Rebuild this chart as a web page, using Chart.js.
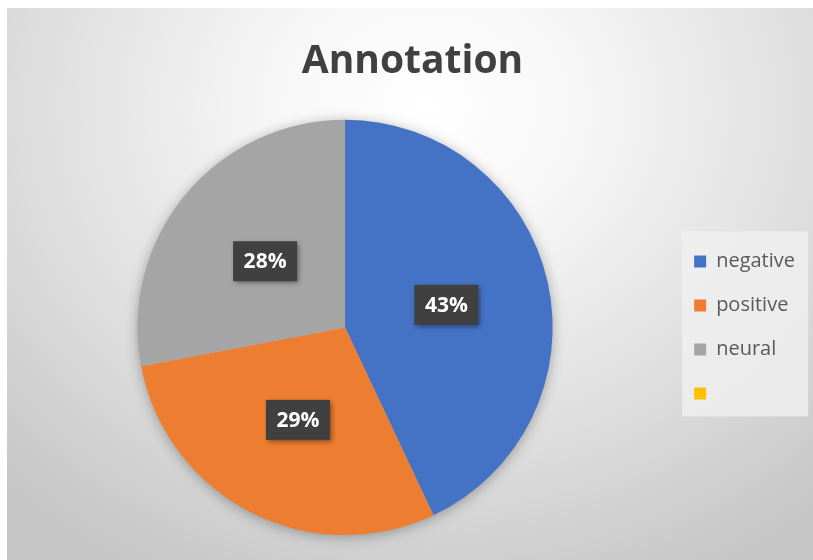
<!DOCTYPE html>
<html>
<head>
<meta charset="utf-8">
<script src="https://cdn.jsdelivr.net/npm/chart.js@4/dist/chart.umd.min.js"></script>
<style>
  html, body { margin: 0; padding: 0; background: #ffffff; }
  #fondo {
    position: absolute; left: 7px; top: 8px; width: 806px; height: 552px;
    background: radial-gradient(ellipse 75% 95% at 52% 18%, #ffffff 0%, #f7f7f7 25%, #dedede 65%, #c6c6c6 100%);
  }
  #caja { position: absolute; left: 0; top: 0; width: 813px; height: 560px; }
</style>
</head>
<body>
<div id="fondo"></div>
<div id="caja"><canvas id="grafico"></canvas></div>
<script>
const categorias = ["negative", "positive", "neural", ""];
const valores = [43, 29, 28, 0];
const colores = ["#4472C4", "#ED7D31", "#A5A5A5", "#FFC000"];

// fondo claro detras de la leyenda
const fondoLeyenda = {
    id: "fondoLeyenda",
    beforeDraw(chart) {
        const cajas = chart.legend && chart.legend.legendHitBoxes;
        if (!cajas || !cajas.length) return;
        const ctx = chart.ctx;
        const primera = cajas[0];
        const ultima = cajas[cajas.length - 1];
        const x0 = primera.left - 12;
        const y0 = primera.top + primera.height / 2 - 30;
        const y1 = ultima.top + ultima.height / 2 + 23;
        ctx.save();
        ctx.fillStyle = "rgba(240,240,240,0.8)";
        ctx.fillRect(x0, y0, 126, y1 - y0);
        ctx.restore();
    },
};

// sombra suave bajo el pastel
const sombraPastel = {
    id: "sombraPastel",
    beforeDatasetsDraw(chart) {
        const arco = chart.getDatasetMeta(0).data[0];
        if (!arco) return;
        const ctx = chart.ctx;
        ctx.save();
        ctx.shadowColor = "rgba(0,0,0,0.35)";
        ctx.shadowBlur = 14;
        ctx.shadowOffsetY = 2;
        ctx.fillStyle = "#bbbbbb";
        ctx.beginPath();
        ctx.arc(arco.x, arco.y, arco.outerRadius - 1, 0, Math.PI * 2);
        ctx.fill();
        ctx.restore();
    },
};

// etiquetas de porcentaje en cajas oscuras
const etiquetas = {
    id: "etiquetas",
    afterDatasetsDraw(chart) {
        const ctx = chart.ctx;
        const total = valores.reduce((a, b) => a + b, 0);
        chart.getDatasetMeta(0).data.forEach((arco, i) => {
            if (!valores[i]) return;
            const p = arco.getCenterPoint();
            const texto = Math.round((valores[i] / total) * 100) + "%";
            ctx.save();
            ctx.shadowColor = "rgba(0,0,0,0.45)";
            ctx.shadowBlur = 5;
            ctx.shadowOffsetX = 2;
            ctx.shadowOffsetY = 2;
            ctx.fillStyle = "#404040";
            ctx.fillRect(p.x - 32, p.y - 20, 64, 40);
            ctx.restore();
            ctx.save();
            ctx.fillStyle = "#ffffff";
            ctx.font = "bold 21px 'Open Sans'";
            ctx.textAlign = "center";
            ctx.textBaseline = "middle";
            ctx.fillText(texto, p.x, p.y + 1);
            ctx.restore();
        });
    },
};

new Chart(document.querySelector("#grafico").getContext("2d"), {
    type: "pie",
    data: {
        labels: categorias,
        datasets: [{
            data: valores,
            backgroundColor: colores,
            borderWidth: 0,
            hoverOffset: 0,
        }],
    },
    options: {
        responsive: true,
        maintainAspectRatio: false,
        animation: false,
        events: [],
        layout: {
            padding: { left: 20, right: 8, top: 0, bottom: 25 },
        },
        plugins: {
            title: {
                display: true,
                text: "Annotation",
                color: "#404040",
                font: { family: "'Open Sans'", size: 39, weight: "bold" },
                padding: { top: 38, bottom: 35 },
            },
            legend: {
                position: "right",
                fullSize: false,
                labels: {
                    boxWidth: 12,
                    boxHeight: 12,
                    padding: 24,
                    color: "#595959",
                    font: { family: "'Open Sans'", size: 20 },
                },
            },
            tooltip: { enabled: false },
        },
    },
    plugins: [fondoLeyenda, sombraPastel, etiquetas],
});
</script>
</body>
</html>
